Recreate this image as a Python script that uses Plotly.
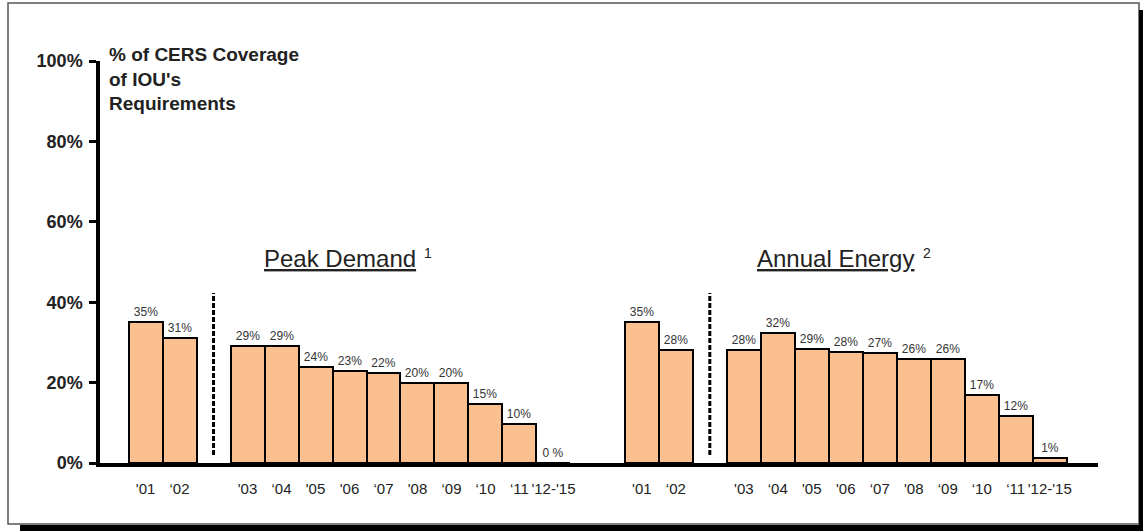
import plotly.graph_objects as go

# ---- data ----
categories = ["'01", "‘02", "'03", "‘04", "'05", "'06", "‘07", "'08", "‘09", "‘10", "‘11", "'12-'15"]
peak_demand = [35, 31, 29, 29, 24, 23, 22.4, 20, 20, 14.7, 9.7, 0]
peak_labels = ["35%", "31%", "29%", "29%", "24%", "23%", "22%", "20%", "20%", "15%", "10%", "0 %"]
annual_energy = [35, 28, 28, 32.3, 28.4, 27.6, 27.4, 25.9, 25.9, 16.9, 11.7, 1.2]
energy_labels = ["35%", "28%", "28%", "32%", "29%", "28%", "27%", "26%", "26%", "17%", "12%", "1%"]
y_ticks = [0, 20, 40, 60, 80, 100]
y_tick_labels = ["0%", "20%", "40%", "60%", "80%", "100%"]

# ---- layout helpers ----
W, H = 1143, 531
ML, MR, MT, MB = 100, 45, 61, 68
PW, PH = W - ML - MR, H - MT - MB
XMIN, XMAX = -1.34, 28.02
RIGHT_OFFSET = 14.6

slot = [0, 1, 3, 4, 5, 6, 7, 8, 9, 10, 11, 12]
x_left = slot
x_right = [s + RIGHT_OFFSET for s in slot]


def px(xp):
    return (xp - ML) / PW


def py(yp):
    return (H - MB - yp) / PH


FILL = "#FAC08F"
FONT = "Arial, Liberation Sans, sans-serif"

fig = go.Figure()
for xs, ys, labs in [(x_left, peak_demand, peak_labels), (x_right, annual_energy, energy_labels)]:
    fig.add_trace(go.Bar(
        x=xs, y=ys, width=1.0,
        marker=dict(color=FILL, line=dict(color="black", width=2)),
        text=labs, textposition="outside", cliponaxis=False,
        textfont=dict(family=FONT, size=12, color="#333333"),
        showlegend=False, hoverinfo="skip",
    ))

shapes = []
# dashed separators
for xd in [2, 2 + RIGHT_OFFSET]:
    shapes.append(dict(type="line", xref="x", yref="y", x0=xd, x1=xd, y0=2, y1=42.3,
                       line=dict(color="black", width=3, dash="5px,2px")))
# frame
shapes.append(dict(type="rect", xref="paper", yref="paper",
                   x0=px(8), x1=px(1139), y0=py(524), y1=py(3),
                   line=dict(color="#555555", width=1.5), layer="below"))
# shadow
shapes.append(dict(type="rect", xref="paper", yref="paper",
                   x0=px(20), x1=px(1143), y0=py(531), y1=py(525),
                   line=dict(width=0), fillcolor="black"))
shapes.append(dict(type="rect", xref="paper", yref="paper",
                   x0=px(1139), x1=px(1143), y0=py(531), y1=py(10),
                   line=dict(width=0), fillcolor="black"))

annotations = [
    dict(xref="paper", yref="paper", x=px(107), y=py(42), xanchor="left", yanchor="top",
         text="<b>% of CERS Coverage<br>of IOU's<br>Requirements</b>", align="left",
         showarrow=False, font=dict(family=FONT, size=19, color="#222222")),
    dict(xref="paper", yref="paper", x=px(340), y=py(258), xanchor="center", yanchor="middle",
         text="<u>Peak Demand</u>", showarrow=False,
         font=dict(family=FONT, size=24, color="#222222")),
    dict(xref="paper", yref="paper", x=px(428), y=py(253), xanchor="center", yanchor="middle",
         text="1", showarrow=False, font=dict(family=FONT, size=14, color="#222222")),
    dict(xref="paper", yref="paper", x=px(835), y=py(258), xanchor="center", yanchor="middle",
         text="<u>Annual Energy</u>", showarrow=False,
         font=dict(family=FONT, size=24, color="#222222")),
    dict(xref="paper", yref="paper", x=px(927), y=py(253), xanchor="center", yanchor="middle",
         text="2", showarrow=False, font=dict(family=FONT, size=14, color="#222222")),
]

fig.update_layout(
    width=W, height=H,
    margin=dict(l=ML, r=MR, t=MT, b=MB, pad=0),
    paper_bgcolor="white", plot_bgcolor="white",
    bargap=0, shapes=shapes, annotations=annotations,
    xaxis=dict(range=[XMIN, XMAX], showgrid=False, zeroline=False,
               showline=True, linecolor="black", linewidth=4,
               tickmode="array", tickvals=x_left + x_right, ticktext=categories + categories,
               ticks="", ticklabelstandoff=9,
               tickfont=dict(family=FONT, size=15, color="#222222")),
    yaxis=dict(range=[0, 100], showgrid=False, zeroline=False,
               showline=True, linecolor="black", linewidth=3.5,
               tickmode="array", tickvals=y_ticks, ticktext=["<b>%s</b>" % t for t in y_tick_labels],
               ticks="outside", ticklen=7, tickwidth=3, tickcolor="black",
               ticklabelstandoff=3,
               tickfont=dict(family=FONT, size=18, color="#222222")),
)

fig.write_html("out.html")
